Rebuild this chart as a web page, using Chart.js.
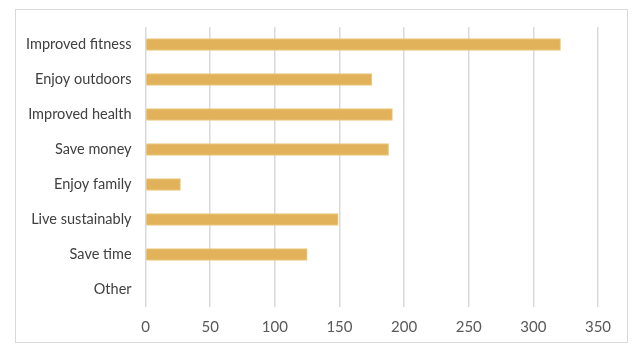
<!DOCTYPE html>
<html>
<head>
<meta charset="utf-8">
<script src="https://cdn.jsdelivr.net/npm/chart.js@4"></script>
<style>
  html, body { margin: 0; padding: 0; background: #fff; }
  #frame {
    position: absolute; left: 15px; top: 9px; width: 613px; height: 334px;
    border: 1px solid #d9d9d9; box-sizing: border-box;
  }
  #wrap { position: absolute; left: 0; top: 0; width: 640px; height: 355px; }
</style>
</head>
<body>
<div id="frame"></div>
<div id="wrap"><canvas id="chart"></canvas></div>
<script>
// Chart data
const categories = ['Improved fitness', 'Enjoy outdoors', 'Improved health', 'Save money',
  'Enjoy family', 'Live sustainably', 'Save time', 'Other'];
const responses = [321, 175, 191, 188, 27, 149, 125, 0];
const xTicks = [0, 50, 100, 150, 200, 250, 300, 350];

const ctx = document.getElementById('chart').getContext('2d');
new Chart(ctx, {
  type: 'bar',
  data: {
    labels: categories,
    datasets: [{
      data: responses,
      backgroundColor: '#E2B25A',
      borderColor: '#EDC97F',
      borderWidth: 1,
      barThickness: 12
    }]
  },
  options: {
    indexAxis: 'y',
    responsive: true,
    maintainAspectRatio: false,
    animation: false,
    layout: { padding: { left: 12, right: 42, top: 27, bottom: 8 } },
    plugins: { legend: { display: false }, tooltip: { enabled: false } },
    scales: {
      x: {
        min: 0,
        max: 350,
        afterBuildTicks: axis => { axis.ticks = xTicks.map(v => ({ value: v })); },
        grid: { color: '#d9d9d9', lineWidth: 1.5, drawTicks: false },
        border: { display: false },
        ticks: { color: '#595959', font: { family: 'Lato', size: 15 }, padding: 11 }
      },
      y: {
        grid: { display: false, drawTicks: false },
        border: { display: false },
        ticks: { color: '#404040', font: { family: 'Lato', size: 14.5 }, padding: 14 }
      }
    }
  }
});
</script>
</body>
</html>
